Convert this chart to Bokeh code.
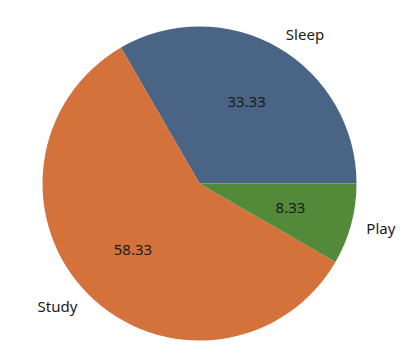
import math
from bokeh.plotting import figure
from bokeh.models import ColumnDataSource
from bokeh.core.properties import value
from bokeh.embed import file_html
from bokeh.resources import INLINE

categories = ["Sleep", "Study", "Play"]
shares = [33.33, 58.33, 8.33]
colors = ["#4a6486", "#d3723a", "#538a3a"]

W, H = 404, 354
cx, cy = 199, 183  # pixel position of pie centre (from top-left)
R = 157

p = figure(width=W, height=H, output_backend="svg", toolbar_location=None,
           x_range=(-cx, W - cx), y_range=(-(H - cy), cy),
           min_border=0, min_border_left=0, min_border_right=0,
           min_border_top=0, min_border_bottom=0)
p.axis.visible = False
p.grid.visible = False
p.outline_line_color = None
p.background_fill_color = "white"
p.border_fill_color = "white"

total = sum(shares)
starts, ends, mids = [], [], []
a = 0.0
for s in shares:
    ang = s / total * 2 * math.pi
    starts.append(a)
    ends.append(a + ang)
    mids.append(a + ang / 2)
    a += ang

src = ColumnDataSource(dict(start=starts, end=ends, color=colors, cat=categories))
p.wedge(x=0, y=0, radius=R, start_angle="start", end_angle="end",
        fill_color="color", line_color=None, source=src)

pct_r = 0.6 * R
lab_r = 1.1 * R
pct_src = ColumnDataSource(dict(
    x=[pct_r * math.cos(m) for m in mids],
    y=[pct_r * math.sin(m) for m in mids],
    t=[f"{s:.2f}" for s in shares]))
p.text(x="x", y="y", text="t", source=pct_src, text_align="center",
       text_baseline="middle", text_font=value("Noto Sans"),
       text_font_size="15px", text_color="#1a1a1a")

lab_src = ColumnDataSource(dict(
    x=[lab_r * math.cos(m) for m in mids],
    y=[lab_r * math.sin(m) for m in mids],
    t=categories,
    align=["left" if math.cos(m) > 0 else "right" for m in mids]))
p.text(x="x", y="y", text="t", source=lab_src, text_align="align",
       text_baseline="middle", text_font=value("Noto Sans"),
       text_font_size="15px", text_color="#1a1a1a")

open("out.html", "w").write(file_html(p, INLINE))
